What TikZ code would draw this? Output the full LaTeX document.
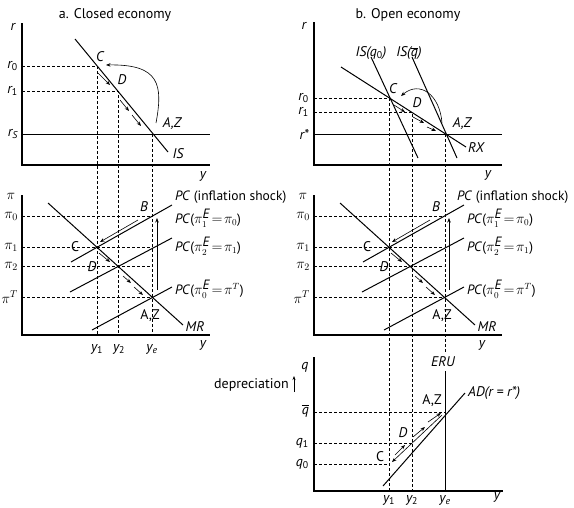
\documentclass[tikz,border=0pt]{standalone}
\usepackage{fontspec}
\setmainfont{PT Sans}
\usetikzlibrary{arrows.meta}

\newcommand{\lblsize}{\fontsize{14}{16}\selectfont}
\newcommand{\pcsize}{\fontsize{13.5}{16}\selectfont\thickmuskip=2mu}
\newcommand{\qbar}{$\overline{\mbox{\itshape q}}$}
\newcommand{\sub}[1]{\textsubscript{\upshape #1}}

\begin{document}
\begin{tikzpicture}[
  x=1pt, y=-1pt,
  axis/.style={line width=1.3pt},
  curve/.style={line width=1pt},
  guide/.style={line width=0.7pt, dash pattern=on 3pt off 2pt},
  move/.style={-{Stealth[length=4.5pt,width=3.5pt]}, line width=0.6pt},
  txt/.style={font=\lblsize, inner sep=1pt},
  lbl/.style={font=\lblsize\itshape, inner sep=1pt},
  pc/.style={font=\pcsize, inner sep=1pt, anchor=west},
  tick/.style={lbl, anchor=east}
]
\useasboundingbox (0,0) rectangle (574,507);

\node[txt] (titleA) at (115,15) {a. Closed economy};
\node[txt] (titleB) at (408,15) {b. Open economy};

% closed economy, IS diagram
\coordinate (aTop) at (22,23);
\coordinate (aEnd) at (210,165);
\coordinate (aBase) at (22,335);
\coordinate (aC) at (97,66);
\coordinate (aD) at (118,91);
\coordinate (aA) at (152,134);
\coordinate (aIS1) at (75,39);
\coordinate (aIS2) at (168,152);
\coordinate (arS) at (210,134);
\draw[axis] (aTop) |- (aEnd);
\draw[guide] (aC -| aTop) -- (aC) -- (aC |- aBase);
\draw[guide] (aD -| aTop) -- (aD) -- (aD |- aBase);
\draw[guide] (aA) -- (aA |- aBase);
\draw[curve] (aA -| aTop) -- (arS);
\draw[curve] (aIS1) -- (aIS2);
\draw[move] (156,123) .. controls (163,85) and (160,64) .. (106,65);
\draw[move] (98,73) -- (110,85);
\draw[move] (120,100) -- (129,111);
\draw[move] (132,115) -- (141,126);
\node[lbl] (ar) at (13,27) {r};
\node[lbl] (ay) at (203,176) {y};
\node[tick] (ar0) at (19,66) {r\sub{0}};
\node[tick] (ar1) at (19,91) {r\sub{1}};
\node[tick] (arS) at (19,134) {r\textsubscript{S}};
\node[lbl] (aCl) at (100,57) {C};
\node[lbl] (aDl) at (122,80) {D};
\node[lbl] (aAZ) at (172,124) {A,Z};
\node[lbl] (aIS) at (178,154) {IS};

% PC--MR diagrams
\foreach \p/\sx/\lx/\yx in {a/0/174/203, b/292/164/190}{
\begin{scope}[xshift=\sx pt]
  \coordinate (m\p-Top) at (22,195);
  \coordinate (m\p-End) at (210,335);
  \coordinate (m\p-B) at (152,216);
  \coordinate (m\p-C) at (97,247);
  \coordinate (m\p-D) at (119,266);
  \coordinate (m\p-A) at (152,297);
  \draw[axis] (m\p-Top) |- (m\p-End);
  \draw[guide] (m\p-B -| m\p-Top) -- (m\p-B);
  \draw[guide] (m\p-C -| m\p-Top) -- (m\p-C -| m\p-B);
  \draw[guide] (m\p-D -| m\p-Top) -- (m\p-D -| m\p-B);
  \draw[guide] (m\p-A -| m\p-Top) -- (m\p-A);
  \draw[curve] (48,203) -- (183,325);
  \draw[curve] (71,262) -- (172,205);
  \draw[curve] (70,292) -- (172,238);
  \draw[curve] (92,330) -- (172,287);
  \draw[move] (157,290) -- (157,218);
  \draw[move] (138,220) -- (100,242);
  \draw[move] (99,253) -- (110,262);
  \draw[move] (123,276) -- (131,283);
  \draw[move] (134,287) -- (143,295);
  \node[txt] (m\p-pi) at (11,196) {$\pi$};
  \node[tick] (m\p-pi0) at (19,216) {$\pi_0$};
  \node[tick] (m\p-pi1) at (19,247) {$\pi_1$};
  \node[tick] (m\p-pi2) at (19,266) {$\pi_2$};
  \node[tick] (m\p-piT) at (19,297) {$\pi^T$};
  \node[pc] (m\p-shock) at (\lx,197) {\textit{PC} (inflation shock)};
  \node[pc] (m\p-pc1) at (174,218) {\textit{PC}($\pi^{\textit{E}}_1=\pi_0$)};
  \node[pc] (m\p-pc2) at (174,246) {\textit{PC}($\pi^{\textit{E}}_2=\pi_1$)};
  \node[pc] (m\p-pc0) at (174,289) {\textit{PC}($\pi^{\textit{E}}_0=\pi^T$)};
  \node[lbl] (m\p-Bl) at (144,207) {B};
  \node[txt] (m\p-Cl) at (75,247) {C};
  \node[lbl] (m\p-Dl) at (92,267) {D};
  \node[txt] (m\p-AZ) at (150,316) {A,Z};
  \node[lbl] (m\p-MR) at (195,327) {MR};
  \node[lbl] (m\p-y) at (\yx,345) {y};
\end{scope}
}
\node[lbl] (ay1) at (97,349) {y\sub{1}};
\node[lbl] (ay2) at (119,349) {y\sub{2}};
\node[lbl] (aye) at (152,349) {y\textsubscript{e}};

% open economy, RX diagram
\coordinate (bTop) at (314,22);
\coordinate (bEnd) at (502,165);
\coordinate (bBase) at (314,491);
\coordinate (bC) at (389,98);
\coordinate (bD) at (412,112);
\coordinate (bA) at (445,134);
\coordinate (bRX1) at (341,67);
\coordinate (bRX2) at (466,147);
\coordinate (bIS1) at (371,57);
\coordinate (bIS2) at (418,158);
\coordinate (bISq1) at (412,57);
\coordinate (bISq2) at (457,158);
\coordinate (brs) at (502,134);
\coordinate (bERU) at (445,352);
\draw[axis] (bTop) |- (bEnd);
\draw[guide] (bC -| bTop) -- (bC) -- (bC |- bBase);
\draw[guide] (bD -| bTop) -- (bD) -- (bD |- bBase);
\draw[guide] (bA) -- (bERU);
\draw[curve] (bA -| bTop) -- (brs);
\draw[curve] (bRX1) -- (bRX2);
\draw[curve] (bIS1) -- (bIS2);
\draw[curve] (bISq1) -- (bISq2);
\draw[move] (442,123) .. controls (440,95) and (420,80) .. (401,96);
\draw[move] (394,105) -- (405,112);
\draw[move] (413,117) -- (424,123);
\draw[move] (427,127) -- (436,131);
\node[lbl] (br) at (304,26) {r};
\node[lbl] (by) at (488,175) {y};
\node[tick] (br0) at (310,98) {r\sub{0}};
\node[tick] (br1) at (310,112) {r\sub{1}};
\node[tick] (brstar) at (310,134) {r*};
\node[lbl] (bISl) at (371,53) {IS(q\sub{0})};
\node[lbl] (bISql) at (409,53) {IS(\qbar)};
\node[lbl] (bCl) at (393,89) {C};
\node[lbl] (bDl) at (417,103) {D};
\node[lbl] (bAZ) at (462,124) {A,Z};
\node[lbl] (bRX) at (476,148) {RX};

% open economy, AD diagram
\coordinate (cTop) at (314,357);
\coordinate (cEnd) at (503,491);
\coordinate (cA) at (445,412);
\coordinate (cq1) at (412,443);
\coordinate (cq0) at (389,464);
\coordinate (cERU1) at (445,371);
\coordinate (cERU2) at (445,491);
\coordinate (cAD1) at (383,486);
\coordinate (cAD2) at (465,393);
\draw[axis] (cTop) |- (cEnd);
\draw[curve] (cERU1) -- (cERU2);
\draw[curve] (cAD1) -- (cAD2);
\draw[guide] (cA -| cTop) -- (cA);
\draw[guide] (cq1 -| cTop) -- (cq1);
\draw[guide] (cq0 -| cTop) -- (cq0);
\draw[move] (442,415) -- (392,462);
\draw[move] (395,455) -- (405,445);
\draw[move] (413,437) -- (425,427);
\draw[move] (428,422) -- (441,413);
\draw[-{Stealth[length=4pt,width=3pt]}, line width=0.8pt] (294,392) -- (294,376);
\node[lbl] (cq) at (305,367) {q};
\node[txt, anchor=east] (cdep) at (290,385) {depreciation};
\node[tick] (cqbar) at (310,411) {\qbar};
\node[tick] (cq1l) at (310,443) {q\sub{1}};
\node[tick] (cq0l) at (310,464) {q\sub{0}};
\node[lbl] (cERU) at (443,362) {ERU};
\node[lbl, anchor=west] (cAD) at (467,393) {AD(r = r*)};
\node[txt] (cAZ) at (432,401) {A,Z};
\node[lbl] (cDl) at (403,433) {D};
\node[txt] (cCl) at (380,457) {C};
\node[lbl] (cy1) at (389,500) {y\sub{1}};
\node[lbl] (cy2) at (412,500) {y\sub{2}};
\node[lbl] (cye) at (445,500) {y\textsubscript{e}};
\node[lbl] (cy) at (497,497) {y};
\end{tikzpicture}
\end{document}
